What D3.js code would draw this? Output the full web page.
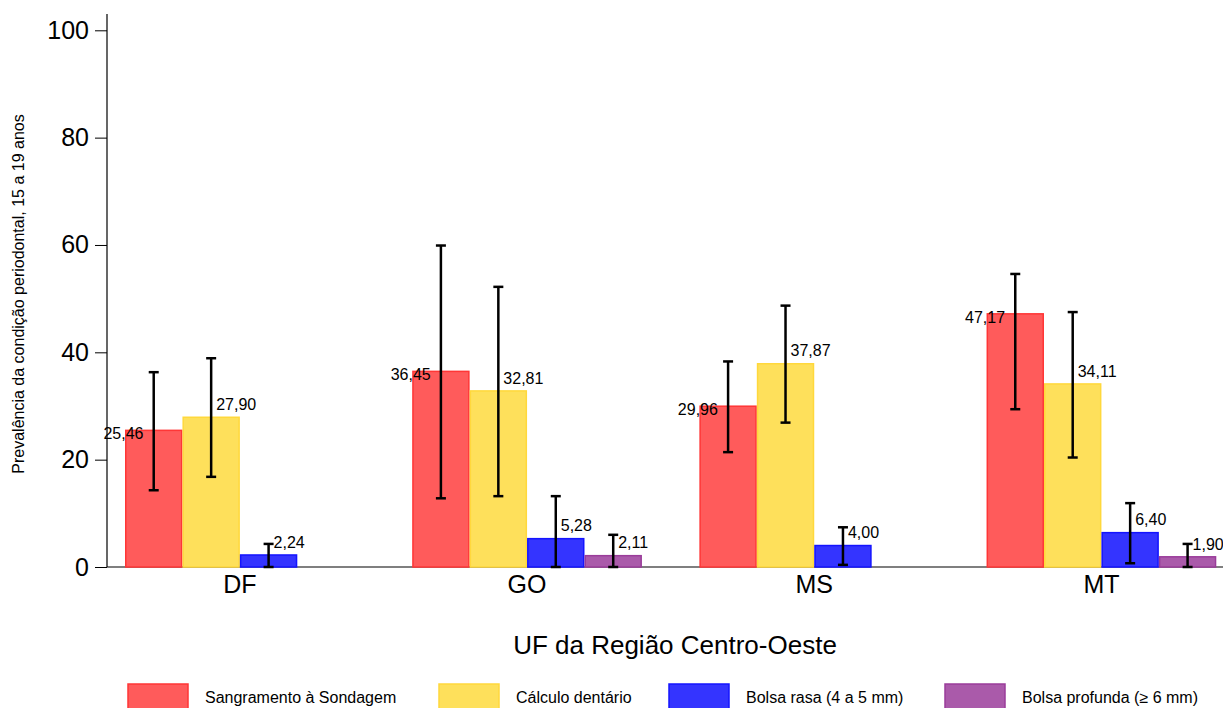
<!DOCTYPE html>
<html>
<head>
<meta charset="utf-8">
<script src="https://cdn.jsdelivr.net/npm/d3@7"></script>
<style>
  html, body { margin: 0; padding: 0; background: #fff; }
  svg { display: block; font-family: "Liberation Sans", Arial, Helvetica, sans-serif; }
</style>
</head>
<body>
<svg id="chart" width="1223" height="708"></svg>
<script>
// ---- data ----
const categories = ["DF", "GO", "MS", "MT"];
const seriesNames = ["Sangramento à Sondagem", "Cálculo dentário", "Bolsa rasa (4 a 5 mm)", "Bolsa profunda (≥ 6 mm)"];
const sangramento = [25.46, 36.45, 29.96, 47.17];
const calculo = [27.90, 32.81, 37.87, 34.11];
const bolsaRasa = [2.24, 5.28, 4.00, 6.40];
const bolsaProfunda = [null, 2.11, null, 1.90];
const sangramentoLow = [14.3, 12.8, 21.4, 29.4];
const sangramentoHigh = [36.3, 59.9, 38.3, 54.6];
const calculoLow = [16.8, 13.2, 26.9, 20.4];
const calculoHigh = [38.9, 52.2, 48.7, 47.5];
const bolsaRasaLow = [0.0, 0.0, 0.4, 0.7];
const bolsaRasaHigh = [4.3, 13.2, 7.4, 11.9];
const bolsaProfundaLow = [null, 0.0, null, 0.0];
const bolsaProfundaHigh = [null, 6.0, null, 4.3];
const yTicks = [0, 20, 40, 60, 80, 100];
const xTitle = "UF da Região Centro-Oeste";
const yTitle = "Prevalência da condição periodontal, 15 a 19 anos";

// ---- styles ----
const fills = ["#ff5b5b", "#fee05b", "#3434ff", "#aa5aaa"];
const strokes = ["#ff3636", "#ffd83c", "#1414ff", "#9a3c9a"];

const seriesValues = [sangramento, calculo, bolsaRasa, bolsaProfunda];
const seriesLow = [sangramentoLow, calculoLow, bolsaRasaLow, bolsaProfundaLow];
const seriesHigh = [sangramentoHigh, calculoHigh, bolsaRasaHigh, bolsaProfundaHigh];

const rows = [];
categories.forEach((c, ci) => {
  seriesNames.forEach((s, si) => {
    const v = seriesValues[si][ci];
    if (v !== null) rows.push({cat: c, series: s, si, value: v, low: seriesLow[si][ci], high: seriesHigh[si][ci]});
  });
});

const svg = d3.select("#chart");
const axisX = 107, y0px = 567, y100px = 30.3;

const x0 = d3.scaleBand().domain(categories).range([125, 1216.3]).paddingInner(0.2).paddingOuter(0);
const x1 = d3.scaleBand().domain(seriesNames).range([0, x0.bandwidth()]);
const y = d3.scaleLinear().domain([0, 100]).range([y0px, y100px]);

// y axis
const yAxis = d3.axisLeft(y).tickValues(yTicks).tickSize(12).tickPadding(6).tickFormat(d3.format("d"));
const gy = svg.append("g").attr("transform", `translate(${axisX},0)`).call(yAxis);
gy.select(".domain").remove();
gy.selectAll(".tick line").attr("stroke", "#000").attr("stroke-width", 1);
gy.selectAll(".tick text").attr("font-size", 25).attr("fill", "#000").attr("font-family", "Liberation Sans, Arial, sans-serif");
svg.append("line").attr("x1", axisX).attr("x2", axisX).attr("y1", 14).attr("y2", y0px)
  .attr("stroke", "#000").attr("stroke-width", 1.2);

// x axis
svg.append("line").attr("x1", axisX).attr("x2", 1223).attr("y1", y0px).attr("y2", y0px)
  .attr("stroke", "#000").attr("stroke-width", 1.2);
const xAxis = d3.axisBottom(x0).tickSize(0).tickPadding(8);
const gx = svg.append("g").attr("transform", `translate(0,${y0px})`).call(xAxis);
gx.select(".domain").remove();
gx.selectAll(".tick text").attr("font-size", 25).attr("fill", "#000").attr("font-family", "Liberation Sans, Arial, sans-serif");

// bars
const bars = svg.append("g");
bars.selectAll("rect").data(rows).join("rect")
  .attr("x", d => x0(d.cat) + x1(d.series) + 0.75)
  .attr("y", d => y(d.value))
  .attr("width", x1.bandwidth() - 1.5)
  .attr("height", d => y(0) - y(d.value))
  .attr("fill", d => fills[d.si])
  .attr("stroke", d => strokes[d.si])
  .attr("stroke-width", 1.5);

// error bars
const eb = svg.append("g").attr("stroke", "#000").attr("stroke-width", 2.5);
const cx = d => x0(d.cat) + x1(d.series) + x1.bandwidth() / 2;
rows.forEach(d => {
  const g = eb.append("g");
  g.append("line").attr("x1", cx(d)).attr("x2", cx(d)).attr("y1", y(d.high)).attr("y2", y(d.low));
  g.append("line").attr("x1", cx(d) - 5).attr("x2", cx(d) + 5).attr("y1", y(d.high)).attr("y2", y(d.high));
  g.append("line").attr("x1", cx(d) - 5).attr("x2", cx(d) + 5).attr("y1", y(d.low)).attr("y2", y(d.low));
});

// value labels
const fmt = v => d3.format(".2f")(v).replace(".", ",");
svg.append("g").selectAll("text").data(rows).join("text")
  .attr("x", d => d.si === 0 ? x0(d.cat) + x1(d.series) - 1.5 : cx(d) + 5)
  .attr("y", d => d.si === 0 ? y(d.value) + 8.7 : y(d.value) - 7.3)
  .attr("text-anchor", d => d.si === 0 ? "middle" : "start")
  .attr("font-size", 16)
  .attr("fill", "#000")
  .text(d => fmt(d.value));

// axis titles
svg.append("text").attr("x", 675).attr("y", 654).attr("text-anchor", "middle")
  .attr("font-size", 26).attr("fill", "#000").text(xTitle);
svg.append("text").attr("transform", "translate(24,294) rotate(-90)").attr("text-anchor", "middle")
  .attr("font-size", 16).attr("fill", "#000").text(yTitle);

// legend
const legendRectX = [128, 439, 669, 945];
const lg = svg.append("g").selectAll("g").data(seriesNames).join("g")
  .attr("transform", (d, i) => `translate(${legendRectX[i]},684)`);
lg.append("rect").attr("width", 60).attr("height", 30)
  .attr("fill", (d, i) => fills[i]).attr("stroke", (d, i) => strokes[i]).attr("stroke-width", 1.5);
lg.append("text").attr("x", 77).attr("y", 19).attr("font-size", 16).attr("fill", "#000").text(d => d);
</script>
</body>
</html>
